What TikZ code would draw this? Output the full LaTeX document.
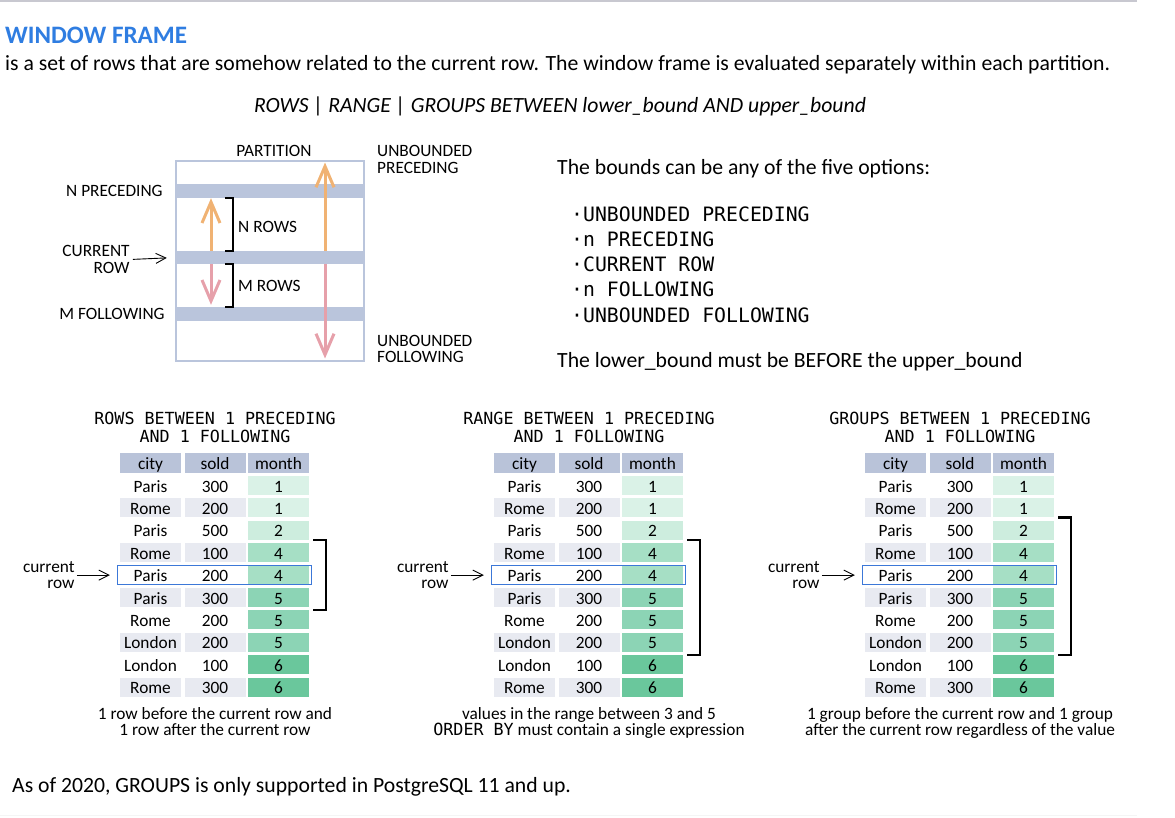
\documentclass[tikz,border=0pt]{standalone}
\usepackage{fontspec}
\setmainfont{Carlito}
\newfontfamily\codefont{DejaVu Sans Mono}
\usetikzlibrary{arrows.meta,positioning}

\definecolor{titleblue}{RGB}{47,125,225}
\definecolor{rulegrey}{RGB}{200,200,208}
\definecolor{bandblue}{RGB}{186,197,220}
\definecolor{headblue}{RGB}{185,195,217}
\definecolor{rowgrey}{RGB}{232,234,241}
\definecolor{month1}{RGB}{218,242,231}
\definecolor{month2}{RGB}{205,237,222}
\definecolor{month4}{RGB}{166,223,197}
\definecolor{month5}{RGB}{140,212,181}
\definecolor{month6}{RGB}{106,199,156}
\definecolor{upcol}{RGB}{240,178,115}
\definecolor{downcol}{RGB}{230,160,170}
\definecolor{currentblue}{RGB}{60,120,216}

\newcommand\bodysize{\fontsize{21.7}{24}\selectfont}
\newcommand\cellsize{\fontsize{17.3}{16.5}\selectfont}
\newcommand\codesize{\codefont\fontsize{16.7}{18}\selectfont}
\newcommand\optsize{\codefont\fontsize{19.8}{22}\selectfont}

\tikzset{
  txt/.style={inner sep=0pt, font=\bodysize},
  lbl/.style={inner sep=0pt, font=\cellsize},
  band/.style={fill=bandblue, minimum width=188pt, minimum height=14pt, inner sep=0pt},
  span/.style={line width=3pt, -{Straight Barb[length=21pt,width=18pt]}},
  pointer/.style={line width=0.9pt, -{Straight Barb[length=10pt,width=10pt]}},
  cell/.style={minimum width=61pt, minimum height=19pt, inner sep=0pt, text height=14pt, text depth=1pt, font=\cellsize},
  head/.style={cell, fill=headblue, minimum height=20pt},
  codetitle/.style={inner sep=0pt, align=center, font=\codesize},
}

\begin{document}
\begin{tikzpicture}[x=1pt, y=-1pt]
\useasboundingbox (0,0) rectangle (1175,817);
\draw[rulegrey, line width=2pt] (0,1) -- (1137,1);
\draw[black!4, line width=1pt] (0,815) -- (1137,815);

% heading
\node[txt, anchor=west, font=\fontsize{25.1}{28}\selectfont\bfseries, text=titleblue] (title) at (5,35) {WINDOW FRAME};
\node[txt, anchor=west] (intro) at (5,65) {is a set of rows that are somehow related to the current row. The window frame is evaluated separately within each partition.};
\node[txt, font=\bodysize\itshape] (syntax) at (560,106) {ROWS | RANGE | GROUPS BETWEEN lower\_bound AND upper\_bound};

% partition sketch
\node[band] (nprec) at (270,191) {};
\node[band, minimum height=13pt] (cur) at (270,257.5) {};
\node[band] (mfol) at (270,314) {};
\node[draw=bandblue, line width=2pt, minimum width=188pt, minimum height=200pt, inner sep=0pt] (part) at (270,260.5) {};
\coordinate (short) at (211,0);
\coordinate (long) at (325,0);

\draw[span, upcol] (cur.north -| short) -- (nprec.south -| short);
\draw[span, downcol, shorten >=2pt] (cur.south -| short) -- (mfol.north -| short);
\draw[span, upcol, shorten >=3pt] (cur.north -| long) -- (part.north -| long);
\draw[span, downcol, shorten >=3pt] (cur.south -| long) -- (part.south -| long);

\draw[line width=1.5pt] ([xshift=49pt]nprec.south west) -| ([xshift=57pt]cur.north west) -- ++(-8pt,0);
\draw[line width=1.5pt] ([xshift=49pt]cur.south west) -| ([xshift=57pt]mfol.north west) -- ++(-8pt,0);
\node[lbl, anchor=west] (nrows) at (238,227) {N ROWS};
\node[lbl, anchor=west] (mrows) at (238,286) {M ROWS};

\node[lbl, above=3pt of part.north, xshift=4pt] (partlbl) {PARTITION};
\node[lbl, left=13pt of nprec.west] (nlbl) {N PRECEDING};
\node[lbl, align=right, left=46pt of cur.west, yshift=-2pt] (curlbl) {CURRENT\\ROW};
\node[lbl, left=11pt of mfol.west] (mlbl) {M FOLLOWING};
\node[lbl, align=left, right=12pt of part.north east] (uplbl) {UNBOUNDED\\PRECEDING};
\node[lbl, align=left, right=12pt of part.south east, yshift=12.5pt] (downlbl) {UNBOUNDED\\FOLLOWING};
\draw[pointer, shorten <=3pt, shorten >=9pt] (curlbl.east) -- (cur.west);

% the five bounds
\node[txt, anchor=west] (bounds) at (557,169) {The bounds can be any of the five options:};
\foreach \opt [count=\i] in {UNBOUNDED PRECEDING, n PRECEDING, CURRENT ROW, n FOLLOWING, UNBOUNDED FOLLOWING}
  \node[inner sep=0pt, font=\optsize, anchor=west] (opt\i) at (571,{214+(\i-1)*25.2}) {·\opt};
\node[txt, anchor=west] (order) at (557,362) {The lower\_bound must be BEFORE the upper\_bound};

% three example tables
\foreach \t/\dx/\first/\last/\kw/\cap in {
    rows/0pt/4/6/ROWS/{1 row before the current row and\\1 row after the current row},
    range/374pt/4/8/RANGE/{values in the range between 3 and 5\\{\codefont\fontsize{16.7}{17}\selectfont ORDER BY} must contain a single expression},
    groups/745pt/3/8/GROUPS/{1 group before the current row and 1 group\\after the current row regardless of the value}} {
  \begin{scope}[xshift=\dx]
    \node[head] (\t-city-h) at (150.5,463) {city};
    \node[head] (\t-sold-h) at (215,463) {sold};
    \node[head] (\t-month-h) at (278.5,463) {month};
    \foreach \city/\sold/\month [count=\i] in {Paris/300/1, Rome/200/1, Paris/500/2, Rome/100/4, Paris/200/4,
        Paris/300/5, Rome/200/5, London/200/5, London/100/6, Rome/300/6} {
      \ifodd\i\relax \def\rowfill{white}\else \def\rowfill{rowgrey}\fi
      \node[cell, fill=\rowfill] (\t-city-\i) at (150.5,{485.5+(\i-1)*22.4}) {\city};
      \node[cell, fill=\rowfill] (\t-sold-\i) at (215,{485.5+(\i-1)*22.4}) {\sold};
      \node[cell, fill=month\month] (\t-month-\i) at (278.5,{485.5+(\i-1)*22.4}) {\month};
    }
    \draw[currentblue, line width=1.2pt] ([xshift=-2pt]\t-city-5.north west) rectangle ([xshift=2pt]\t-month-5.south east);
    \node[lbl, align=right, left=45pt of \t-city-5] (\t-cur) {current\\row};
    \draw[pointer, shorten <=2pt, shorten >=10pt] (\t-cur.east) -- (\t-city-5.west);
    \draw[line width=2.4pt] ([xshift=4pt,yshift=3pt]\t-month-\first.north east) -| ([xshift=17pt,yshift=-3pt]\t-month-\last.south east) -- ++(-13pt,0);
    \node[codetitle, above=10pt of \t-sold-h] (\t-title) {\kw{} BETWEEN 1 PRECEDING\\AND 1 FOLLOWING};
    \node[lbl, align=center, below=10pt of \t-sold-10] (\t-cap) {\cap};
  \end{scope}
}

\node[txt, anchor=west] (note) at (12,787) {As of 2020, GROUPS is only supported in PostgreSQL 11 and up.};
\end{tikzpicture}
\end{document}
